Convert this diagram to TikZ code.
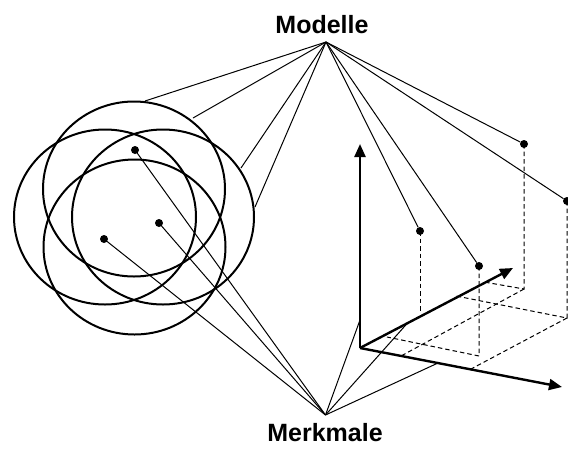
\documentclass[tikz,border=0pt]{standalone}
\usepackage{fontspec}
\setmainfont{Liberation Sans}
\usetikzlibrary{arrows.meta}
\begin{document}
\begin{tikzpicture}[x=1pt,y=-1pt,
  conn/.style={line width=1pt},
  ring/.style={line width=2pt},
  axisline/.style={line width=2.4pt,-{Triangle[length=13pt,width=11pt]}},
  proj/.style={line width=1pt,dash pattern=on 4.5pt off 3pt},
  dot/.style={circle,fill=black,inner sep=0pt,minimum size=8pt},
  lab/.style={font=\fontsize{25}{30}\selectfont\bfseries,inner sep=0pt}]
\useasboundingbox (0,0) rectangle (568,448);

% labels and apexes
\node[lab,anchor=base] (modelle) at (322,33) {Modelle};
\node[lab,anchor=base] (merkmale) at (325,441.5) {Merkmale};
\coordinate (mod) at (326,42);
\coordinate (mer) at (325.5,415);

% circles
\draw[ring] (134,189) ellipse [x radius=91pt, y radius=87.5pt];
\draw[ring] (105,217) ellipse [x radius=91pt, y radius=87.5pt];
\draw[ring] (163,217) ellipse [x radius=91pt, y radius=87.5pt];
\draw[ring] (134.5,247) ellipse [x radius=91pt, y radius=87.5pt];

% dots inside circles
\node[dot] (d1) at (135,150) {};
\node[dot] (d2) at (159,223) {};
\node[dot] (d3) at (104,239) {};

% contact points on circles
\coordinate (c1) at (145,101);
\coordinate (c2) at (193,118);
\coordinate (c3) at (241,168);
\coordinate (c4) at (255,207);

% axes
\coordinate (O) at (360,348);
\coordinate (xt) at (562,387);
\coordinate (zt) at (513,268);
\coordinate (yt) at (360,144);

% points in feature space
\node[dot] (p1) at (420,231) {};
\node[dot] (p2) at (479,266) {};
\node[dot] (p3) at (524,144) {};
\node[dot] (p4) at (567,201) {};

% feet and projection helpers
\coordinate (f1) at (420,313);
\coordinate (f2) at (479,356);
\coordinate (f3) at (524,289);
\coordinate (f4) at (567,318);
\coordinate (g2) at (387,337);
\coordinate (g3) at (484,282);
\coordinate (h3) at (401,356);
\coordinate (g4) at (456,296);
\coordinate (h4) at (471,369);

% axis contact points for Merkmale
\coordinate (ay) at (360,320);
\coordinate (az) at (408,322.5);
\coordinate (ax) at (438,363);

% dashed projections
\draw[proj] (p1.center) -- (f1);
\draw[proj] (p2.center) -- (f2) -- (g2);
\draw[proj] (p3.center) -- (f3) -- (g3);
\draw[proj] (f3) -- (h3);
\draw[proj] (p4.center) -- (f4) -- (g4);
\draw[proj] (f4) -- (h4);

% Modelle connectors
\foreach \t in {c1,c2,c3,c4,p1,p2,p3,p4}
  \draw[conn] (mod) -- (\t);

% Merkmale connectors
\foreach \t in {d1,d2,d3}
  \draw[conn] (mer) -- (\t.center);
\foreach \t in {ay,az,ax}
  \draw[conn] (mer) -- (\t);

% axes
\draw[axisline] (O) -- (yt);
\draw[axisline] (O) -- (zt);
\draw[axisline] (O) -- (xt);
\end{tikzpicture}
\end{document}
